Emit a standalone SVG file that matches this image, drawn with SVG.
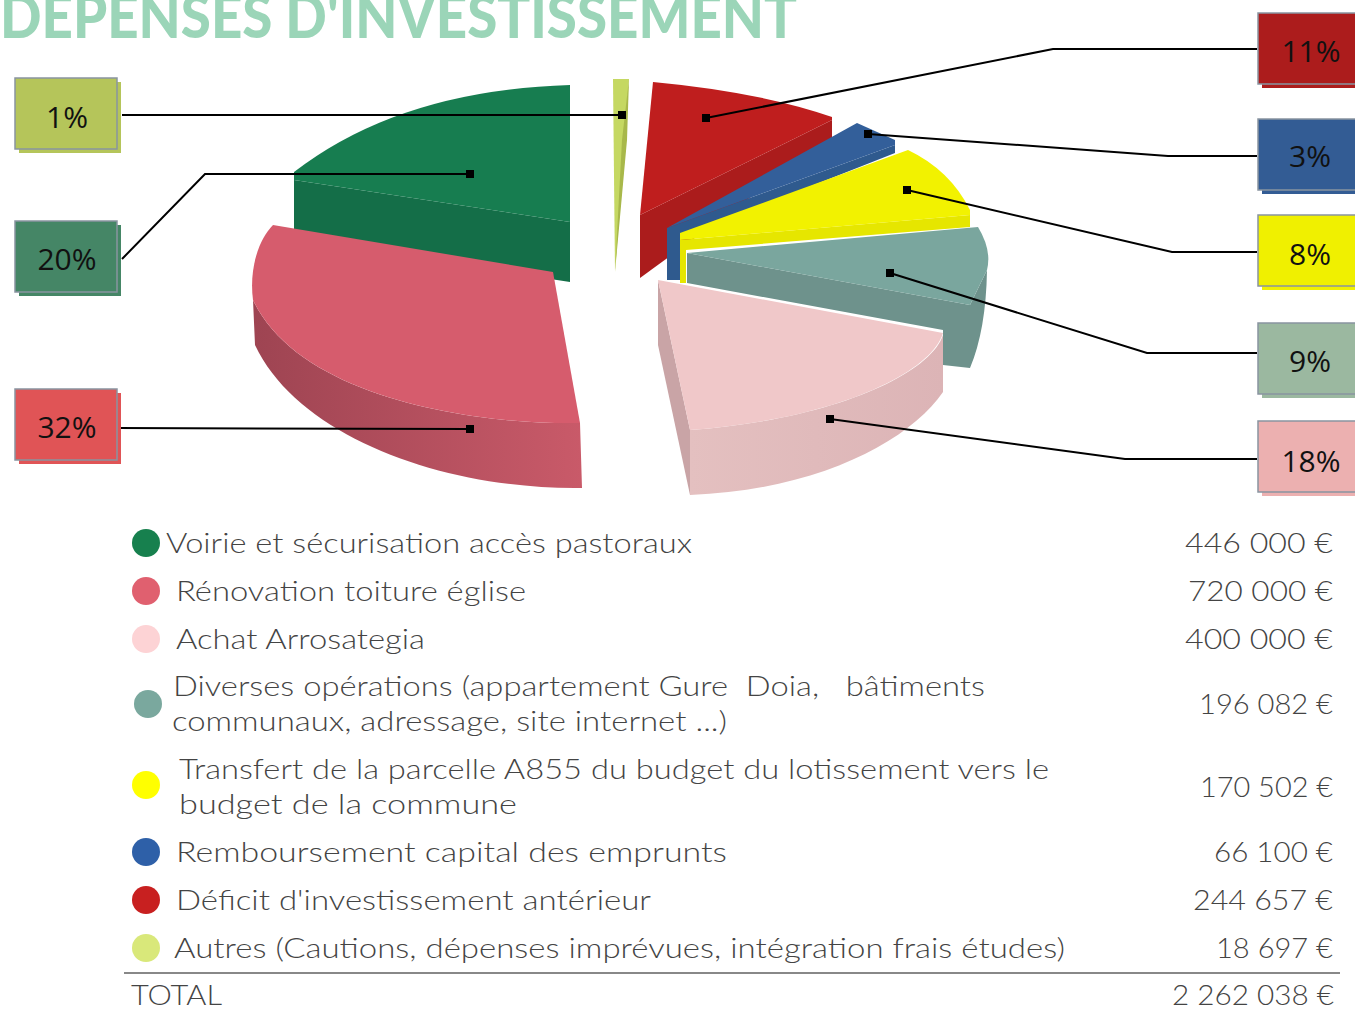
<svg xmlns="http://www.w3.org/2000/svg" width="1355" height="1009" viewBox="0 0 1355 1009">
<style>
.title{font-family:Lato,"Liberation Sans",sans-serif;font-weight:900;font-size:60px;fill:#9bd5b8}
.pct{font-family:"Open Sans","Noto Sans",sans-serif;font-size:30px;fill:#111;text-anchor:middle}
.box{stroke:#8994a0;stroke-width:1.5}
.lg{font-family:Lato,"Liberation Sans",sans-serif;font-weight:300;font-size:28px;fill:#444}
.val{font-family:Lato,"Liberation Sans",sans-serif;font-weight:300;font-size:28px;fill:#444;text-anchor:end}
.ld{fill:none;stroke:#000;stroke-width:2}
</style>
<defs>
<linearGradient id="gRed" x1="0" y1="0" x2="1" y2="0"><stop offset="0" stop-color="#9e4452"/><stop offset="1" stop-color="#c95a69"/></linearGradient>
<linearGradient id="gPink" x1="0" y1="0" x2="1" y2="0"><stop offset="0" stop-color="#e4c0c0"/><stop offset="1" stop-color="#dcb4b6"/></linearGradient>
</defs>
<rect width="1355" height="1009" fill="#fff"/>
<text class="title" x="0" y="38" textLength="797" lengthAdjust="spacingAndGlyphs">DEPENSES D'INVESTISSEMENT</text>

<g id="pie">
<g id="slice-voirie">
<path d="M294,180 L570,222 L570,282 L294,240 Z" fill="#146e48"/>
<path d="M570,85 Q400,90 294,172 L294,180 L570,222 Z" fill="#177d50"/>
</g>
<g id="slice-renovation">
<path d="M253,300 C300,400 480,425 580,423 L582,488 C450,490 300,440 255,345 Z" fill="url(#gRed)"/>
<path d="M273,225 L553,272 L580,423 C480,425 300,400 253,300 C249,270 258,240 273,225 Z" fill="#d65c6d"/>
</g>
<g id="slice-autres">
<path d="M613,79 L629,79 L615,272 Z" fill="#c5d862"/>
<path d="M629,79 L627,140 L615,272 L622,140 Z" fill="#a8b84a"/>
</g>
<g id="slice-deficit">
<path d="M640,215 L832,120 L832,138 L640,278 Z" fill="#ab1c1c"/>
<path d="M653,82 Q760,92 832,117 L832,120 L640,215 Z" fill="#bf1e1e"/>
</g>
<g id="slice-remboursement">
<path d="M667,228 L895,145 L895,153 L680,238 L680,280 L667,280 Z" fill="#2f5a8e"/>
<path d="M667,228 L857,123 L895,140 L895,145 Z" fill="#335f9a"/>
</g>
<g id="slice-transfert">
<path d="M680,240 L970,215 L970,227 L686,250 L686,283 L680,283 Z" fill="#e6e600"/>
<path d="M680,233 L908,150 Q950,170 970,210 L970,215 L680,240 Z" fill="#f2f200"/>
</g>
<g id="slice-diverses">
<path d="M687,253 L970,305 L987,270 Q986,330 970,368 L943,365 L943,330 L687,283 Z" fill="#6e928c"/>
<path d="M687,253 L978,227 Q992,250 987,270 L970,305 Z" fill="#7aa69e"/>
</g>
<g id="slice-achat">
<path d="M658,280 L690,430 L690,495 L658,345 Z" fill="#c9a4a6"/>
<path d="M690,430 C830,420 930,375 943,335 L943,392 C910,440 820,490 690,495 Z" fill="url(#gPink)"/>
<path d="M658,280 L943,333 C930,375 830,420 690,430 Z" fill="#f0c8c9"/>
</g>
</g>

<g id="connectors">
<polyline class="ld" points="122,115 622,115"/>
<polyline class="ld" points="122,259 205,174 470,174"/>
<polyline class="ld" points="117,428 470,429"/>
<polyline class="ld" points="1257,49 1053,49 706,118"/>
<polyline class="ld" points="1257,156 1168,156 868,134"/>
<polyline class="ld" points="1257,252 1172,252 907,190"/>
<polyline class="ld" points="1257,353 1147,353 890,273"/>
<polyline class="ld" points="1257,459 1125,459 830,419"/>
<rect x="618" y="111" width="8" height="8"/>
<rect x="466" y="170" width="8" height="8"/>
<rect x="466" y="425" width="8" height="8"/>
<rect x="702" y="114" width="8" height="8"/>
<rect x="864" y="130" width="8" height="8"/>
<rect x="903" y="186" width="8" height="8"/>
<rect x="886" y="269" width="8" height="8"/>
<rect x="826" y="415" width="8" height="8"/>
</g>

<g id="label-1">
<rect x="19" y="82" width="102" height="71" fill="#b5c55a"/>
<rect class="box" x="15" y="78" width="102" height="71" fill="#b5c55a"/>
<text class="pct" x="67" y="128">1%</text>
</g>
<g id="label-20">
<rect x="19" y="225" width="102" height="71" fill="#458666"/>
<rect class="box" x="15" y="221" width="102" height="71" fill="#458666"/>
<text class="pct" x="67" y="270">20%</text>
</g>
<g id="label-32">
<rect x="19" y="393" width="102" height="71" fill="#e05456"/>
<rect class="box" x="15" y="389" width="102" height="71" fill="#e05456"/>
<text class="pct" x="67" y="438">32%</text>
</g>
<g id="label-11">
<rect x="1262" y="17" width="100" height="71" fill="#ac1c1c"/>
<rect class="box" x="1258" y="13" width="100" height="71" fill="#ac1c1c"/>
<text class="pct" x="1311" y="62">11%</text>
</g>
<g id="label-3">
<rect x="1262" y="123" width="100" height="71" fill="#335c94"/>
<rect class="box" x="1258" y="119" width="100" height="71" fill="#335c94"/>
<text class="pct" x="1310" y="167">3%</text>
</g>
<g id="label-8">
<rect x="1262" y="219" width="100" height="71" fill="#f0f000"/>
<rect class="box" x="1258" y="215" width="100" height="71" fill="#f0f000"/>
<text class="pct" x="1310" y="265">8%</text>
</g>
<g id="label-9">
<rect x="1262" y="327" width="100" height="71" fill="#9bb8a0"/>
<rect class="box" x="1258" y="323" width="100" height="71" fill="#9bb8a0"/>
<text class="pct" x="1310" y="372">9%</text>
</g>
<g id="label-18">
<rect x="1262" y="425" width="100" height="71" fill="#ecb0b0"/>
<rect class="box" x="1258" y="421" width="100" height="71" fill="#ecb0b0"/>
<text class="pct" x="1311" y="472">18%</text>
</g>

<g id="legend">
<ellipse cx="146" cy="543" rx="14" ry="14" fill="#17804e"/>
<text class="lg" x="166" y="553" textLength="526" lengthAdjust="spacingAndGlyphs">Voirie et sécurisation accès pastoraux</text>
<text class="val" x="1333" y="553" textLength="148" lengthAdjust="spacingAndGlyphs">446 000 €</text>

<ellipse cx="146" cy="591" rx="14" ry="14" fill="#e0606f"/>
<text class="lg" x="176" y="601" textLength="350" lengthAdjust="spacingAndGlyphs">Rénovation toiture église</text>
<text class="val" x="1333" y="601" textLength="145" lengthAdjust="spacingAndGlyphs">720 000 €</text>

<ellipse cx="146" cy="639" rx="14" ry="14" fill="#fdd3d5"/>
<text class="lg" x="176" y="649" textLength="249" lengthAdjust="spacingAndGlyphs">Achat Arrosategia</text>
<text class="val" x="1333" y="649" textLength="148" lengthAdjust="spacingAndGlyphs">400 000 €</text>

<ellipse cx="148" cy="704" rx="14" ry="14" fill="#7aa89e"/>
<text class="lg" x="173" y="696" textLength="812" lengthAdjust="spacingAndGlyphs" xml:space="preserve">Diverses opérations (appartement Gure  Doia,   bâtiments</text>
<text class="lg" x="172" y="731" textLength="555" lengthAdjust="spacingAndGlyphs">communaux, adressage, site internet ...)</text>
<text class="val" x="1333" y="714" textLength="134" lengthAdjust="spacingAndGlyphs">196 082 €</text>

<ellipse cx="146" cy="785" rx="14" ry="14" fill="#ffff00"/>
<text class="lg" x="179" y="779" textLength="870" lengthAdjust="spacingAndGlyphs">Transfert de la parcelle A855 du budget du lotissement vers le</text>
<text class="lg" x="179" y="814" textLength="338" lengthAdjust="spacingAndGlyphs">budget de la commune</text>
<text class="val" x="1333" y="797" textLength="133" lengthAdjust="spacingAndGlyphs">170 502 €</text>

<ellipse cx="146" cy="852" rx="14" ry="14" fill="#2e60a8"/>
<text class="lg" x="176" y="862" textLength="551" lengthAdjust="spacingAndGlyphs">Remboursement capital des emprunts</text>
<text class="val" x="1333" y="862" textLength="119" lengthAdjust="spacingAndGlyphs">66 100 €</text>

<ellipse cx="146" cy="900" rx="14" ry="14" fill="#c82020"/>
<text class="lg" x="176" y="910" textLength="475" lengthAdjust="spacingAndGlyphs">Déficit d'investissement antérieur</text>
<text class="val" x="1333" y="910" textLength="140" lengthAdjust="spacingAndGlyphs">244 657 €</text>

<ellipse cx="146" cy="948" rx="14" ry="14" fill="#d9e87a"/>
<text class="lg" x="174" y="958" textLength="891" lengthAdjust="spacingAndGlyphs">Autres (Cautions, dépenses imprévues, intégration frais études)</text>
<text class="val" x="1333" y="958" textLength="117" lengthAdjust="spacingAndGlyphs">18 697 €</text>

<line x1="124" y1="973" x2="1340" y2="973" stroke="#888" stroke-width="2"/>
<text class="lg" x="131" y="1005" textLength="91" lengthAdjust="spacingAndGlyphs">TOTAL</text>
<text class="val" x="1334" y="1005" textLength="162" lengthAdjust="spacingAndGlyphs">2 262 038 €</text>
</g>
</svg>
